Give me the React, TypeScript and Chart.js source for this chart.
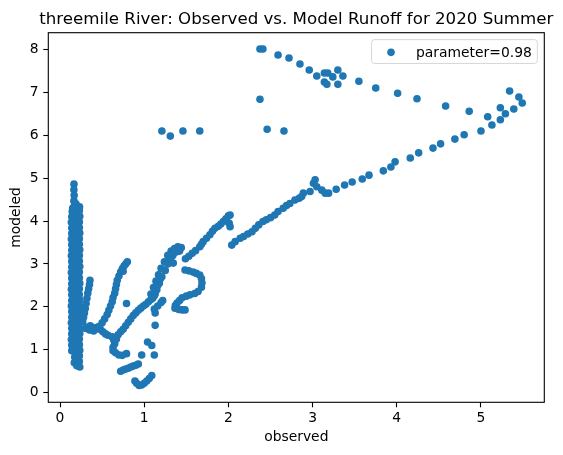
import { useEffect, useRef } from "react";
import { Chart, registerables } from "chart.js";

Chart.register(...registerables);

const TITLE = "threemile River: Observed vs. Model Runoff for 2020 Summer";
const X_LABEL = "observed";
const Y_LABEL = "modeled";
const SERIES_LABEL = "parameter=0.98";
const X_TICKS = [0, 1, 2, 3, 4, 5];
const Y_TICKS = [0, 1, 2, 3, 4, 5, 6, 7, 8];
const X_RANGE = [-0.139, 5.752];
const Y_RANGE = [-0.224, 8.39];

// [observed, modeled] pairs
const lowFlowBand: [number, number][] = [
  [0.14, 0.98], [0.14, 1.11], [0.135, 1.24], [0.14, 1.37], [0.14, 1.5], [0.135, 1.63], [0.14, 1.76], [0.14, 1.89],
  [0.135, 2.02], [0.14, 2.15], [0.14, 2.28], [0.135, 2.41], [0.14, 2.54], [0.14, 2.67], [0.135, 2.8], [0.14, 2.93],
  [0.14, 3.06], [0.135, 3.19], [0.14, 3.32], [0.14, 3.45], [0.135, 3.58], [0.14, 3.71], [0.14, 3.84], [0.135, 3.97],
  [0.14, 4.1], [0.145, 4.22], [0.15, 4.3],
  [0.17, 0.7], [0.175, 0.83], [0.17, 0.96], [0.17, 1.09], [0.175, 1.22], [0.17, 1.35], [0.17, 1.48], [0.175, 1.61],
  [0.17, 1.74], [0.17, 1.87], [0.175, 2.0], [0.17, 2.13], [0.17, 2.26], [0.175, 2.39], [0.17, 2.52], [0.17, 2.65],
  [0.175, 2.78], [0.17, 2.91], [0.17, 3.04], [0.175, 3.17], [0.17, 3.3], [0.17, 3.43], [0.175, 3.56], [0.17, 3.69],
  [0.17, 3.82], [0.175, 3.95], [0.17, 4.08], [0.17, 4.21], [0.168, 4.34], [0.165, 4.47], [0.168, 4.6], [0.165, 4.73],
  [0.166, 4.86],
  [0.2, 0.63], [0.205, 0.76], [0.2, 0.89], [0.2, 1.02], [0.205, 1.15], [0.2, 1.28], [0.2, 1.41], [0.205, 1.54],
  [0.2, 1.67], [0.2, 1.8], [0.205, 1.93], [0.2, 2.06], [0.2, 2.19], [0.205, 2.32], [0.2, 2.45], [0.2, 2.58],
  [0.205, 2.71], [0.2, 2.84], [0.2, 2.97], [0.205, 3.1], [0.2, 3.23], [0.2, 3.36], [0.205, 3.49], [0.2, 3.62],
  [0.2, 3.75], [0.205, 3.88], [0.2, 4.01], [0.2, 4.14], [0.195, 4.27], [0.19, 4.4],
  [0.235, 0.6], [0.23, 0.73], [0.23, 0.86], [0.235, 0.99], [0.23, 1.12], [0.23, 1.25], [0.235, 1.38], [0.23, 1.51],
  [0.23, 1.64], [0.235, 1.77], [0.23, 1.9], [0.23, 2.03], [0.235, 2.16], [0.23, 2.29], [0.23, 2.42], [0.235, 2.55],
  [0.23, 2.68], [0.23, 2.81], [0.235, 2.94], [0.23, 3.07], [0.23, 3.2], [0.235, 3.33], [0.23, 3.46], [0.23, 3.59],
  [0.235, 3.72], [0.23, 3.85], [0.23, 3.98], [0.235, 4.11], [0.23, 4.24], [0.232, 4.33],
];

const bandBranch: [number, number][] = [
  [0.27, 1.66], [0.28, 1.76], [0.29, 1.86], [0.3, 1.96], [0.31, 2.08], [0.32, 2.2], [0.33, 2.32], [0.34, 2.42],
  [0.35, 2.52], [0.356, 2.62],
];

const lowFlat: [number, number][] = [
  [0.3, 1.5], [0.33, 1.53], [0.36, 1.56], [0.39, 1.52], [0.42, 1.48], [0.45, 1.53], [0.48, 1.47], [0.51, 1.42],
  [0.54, 1.37], [0.57, 1.34], [0.4, 1.44], [0.35, 1.46],
];

const riseA: [number, number][] = [
  [0.47, 1.55], [0.5, 1.63], [0.53, 1.72], [0.56, 1.82], [0.58, 1.92], [0.6, 2.02], [0.62, 2.12], [0.63, 2.22],
  [0.65, 2.32], [0.66, 2.42], [0.67, 2.52], [0.68, 2.62], [0.7, 2.72], [0.72, 2.81], [0.74, 2.89], [0.76, 2.95],
  [0.78, 3.0], [0.8, 3.05], [0.75, 2.83], [0.79, 2.08],
];

const riseB: [number, number][] = [
  [0.62, 1.3], [0.64, 1.22], [0.65, 1.14], [0.63, 1.06], [0.63, 0.98], [0.66, 0.93], [0.7, 0.88], [0.74, 0.87],
  [0.79, 0.91], [0.67, 1.25], [0.69, 1.35], [0.72, 1.42], [0.75, 1.48], [0.78, 1.56], [0.81, 1.64], [0.84, 1.72],
  [0.87, 1.8], [0.9, 1.86], [0.93, 1.92], [0.96, 1.97], [0.99, 2.02], [1.02, 2.06], [1.05, 2.12], [1.08, 2.17],
  [1.1, 2.22], [1.12, 2.26],
];

const lowStreaks: [number, number][] = [
  [0.72, 0.5], [0.75, 0.53], [0.78, 0.55], [0.81, 0.57], [0.84, 0.6], [0.87, 0.62], [0.9, 0.64], [0.93, 0.67],
  [0.89, 0.27], [0.91, 0.22], [0.94, 0.17], [0.97, 0.18], [1.0, 0.22], [1.03, 0.27], [1.06, 0.33], [1.09, 0.4],
  [0.97, 0.88], [1.12, 0.88], [1.04, 1.18], [1.09, 1.1], [1.13, 1.57], [1.13, 1.86], [1.12, 1.95], [1.16, 2.02],
  [1.2, 2.1], [1.22, 2.15],
];

const midColumn: [number, number][] = [
  [1.1, 2.2], [1.08, 2.3], [1.11, 2.45], [1.14, 2.6], [1.17, 2.75], [1.2, 2.9], [1.24, 3.05], [1.28, 3.2],
  [1.32, 3.3], [1.36, 3.36], [1.4, 3.4], [1.44, 3.38], [1.15, 2.4], [1.18, 2.55], [1.21, 2.7], [1.25, 2.85],
  [1.28, 3.0], [1.31, 3.1], [1.34, 3.2], [1.38, 3.28], [1.42, 3.3], [1.345, 3.02], [1.13, 2.3], [1.16, 2.5],
  [1.19, 2.65],
];

const hookArc: [number, number][] = [
  [1.485, 2.86], [1.53, 2.84], [1.58, 2.81], [1.62, 2.78], [1.66, 2.74], [1.68, 2.66], [1.686, 2.56], [1.68, 2.46],
  [1.64, 2.36], [1.6, 2.31], [1.544, 2.28], [1.5, 2.25], [1.45, 2.21], [1.42, 2.15], [1.39, 2.09], [1.37, 2.03],
  [1.366, 1.97], [1.41, 1.94], [1.45, 1.93], [1.485, 1.93],
];

const midLine: [number, number][] = [
  [1.49, 3.12], [1.53, 3.18], [1.57, 3.25], [1.61, 3.31], [1.66, 3.4], [1.68, 3.46], [1.7, 3.52], [1.74, 3.6],
  [1.78, 3.68], [1.81, 3.76], [1.84, 3.83], [1.88, 3.88], [1.91, 3.93], [1.94, 3.99], [1.97, 4.05], [2.0, 4.12],
  [2.02, 4.14], [2.02, 3.87], [2.01, 3.95],
];

const upperLine: [number, number][] = [
  [2.04, 3.44], [2.08, 3.52], [2.14, 3.6], [2.18, 3.64], [2.23, 3.7], [2.28, 3.75], [2.32, 3.83], [2.36, 3.91],
  [2.41, 3.99], [2.45, 4.03], [2.5, 4.08], [2.55, 4.14], [2.59, 4.22], [2.65, 4.3], [2.69, 4.36], [2.73, 4.41],
  [2.79, 4.49], [2.84, 4.53], [2.87, 4.57], [2.89, 4.65], [2.97, 4.69], [3.01, 4.88], [3.03, 4.96], [3.05, 4.8],
  [3.11, 4.72], [3.15, 4.65], [3.19, 4.65], [3.28, 4.74], [3.38, 4.84], [3.47, 4.91], [3.59, 4.98], [3.67, 5.07],
  [3.84, 5.17], [3.93, 5.26], [3.98, 5.38], [4.16, 5.47], [4.26, 5.59], [4.43, 5.7], [4.52, 5.8], [4.69, 5.91],
  [4.8, 6.01], [5.0, 6.1], [5.08, 6.43], [5.13, 6.24], [5.23, 6.36], [5.23, 6.64], [5.29, 6.5], [5.39, 6.61],
  [5.49, 6.75], [5.45, 6.89], [5.34, 7.03],
];

const upperArc: [number, number][] = [
  [2.375, 8.01], [2.41, 8.01], [2.59, 7.87], [2.72, 7.8], [2.85, 7.66], [2.96, 7.52], [3.05, 7.38], [3.14, 7.45],
  [3.18, 7.45], [3.3, 7.52], [3.36, 7.38], [3.24, 7.36], [3.14, 7.24], [3.17, 7.19], [3.3, 7.19], [3.55, 7.26],
  [3.75, 7.1], [4.01, 6.98], [4.24, 6.85], [4.58, 6.68], [4.86, 6.56],
];

const scattered: [number, number][] = [
  [2.375, 6.84], [2.46, 6.14], [2.66, 6.1], [1.21, 6.1], [1.31, 5.98], [1.46, 6.1], [1.66, 6.1],
];

const allPairs = [
  ...lowFlowBand, ...bandBranch, ...lowFlat, ...riseA, ...riseB, ...lowStreaks,
  ...midColumn, ...hookArc, ...midLine, ...upperLine, ...upperArc, ...scattered,
];

const BLUE = "#1f77b4";
const FONT = "DejaVu Sans";
const FS = 13.89;
const PT_R = 3.1;
const PT_BW = 1.4;

const decorations = {
  id: "decorations",
  afterDatasetsDraw(chart: any) {
    const { ctx, chartArea: a } = chart;
    ctx.save();
    // frame
    ctx.strokeStyle = "#000";
    ctx.lineWidth = 1.1;
    ctx.strokeRect(a.left, a.top, a.right - a.left, a.bottom - a.top);
    // title
    ctx.fillStyle = "#000";
    ctx.font = `16.67px "${FONT}"`;
    ctx.textAlign = "center";
    ctx.textBaseline = "alphabetic";
    ctx.fillText(TITLE, (a.left + a.right) / 2, a.top - 8.33);
    // legend
    ctx.font = `${FS}px "${FONT}"`;
    const tw = ctx.measureText(SERIES_LABEL).width;
    const pad = 0.4 * FS, hl = 2 * FS, htp = 0.8 * FS, axpad = 0.5 * FS;
    const right = a.right - axpad;
    const top = a.top + axpad;
    const w = pad + hl + htp + tw + pad;
    const h = 23.8;
    const left = right - w;
    const r = 2.8;
    ctx.beginPath();
    ctx.moveTo(left + r, top);
    ctx.lineTo(right - r, top);
    ctx.arcTo(right, top, right, top + r, r);
    ctx.lineTo(right, top + h - r);
    ctx.arcTo(right, top + h, right - r, top + h, r);
    ctx.lineTo(left + r, top + h);
    ctx.arcTo(left, top + h, left, top + h - r, r);
    ctx.lineTo(left, top + r);
    ctx.arcTo(left, top, left + r, top, r);
    ctx.closePath();
    ctx.fillStyle = "rgba(255,255,255,0.8)";
    ctx.fill();
    ctx.strokeStyle = "rgba(204,204,204,0.8)";
    ctx.lineWidth = 1;
    ctx.stroke();
    ctx.beginPath();
    ctx.arc(left + pad + hl / 2, top + 12.7, PT_R + PT_BW / 2, 0, Math.PI * 2);
    ctx.fillStyle = BLUE;
    ctx.fill();
    ctx.fillStyle = "#000";
    ctx.textAlign = "left";
    ctx.textBaseline = "alphabetic";
    ctx.fillText(SERIES_LABEL, left + pad + hl + htp, top + 16.9);
    ctx.restore();
  },
};

function zeroPad(s: any) {
  s.paddingLeft = 0;
  s.paddingRight = 0;
  s.paddingTop = 0;
  s.paddingBottom = 0;
}

export default function App() {
  const ref = useRef<HTMLCanvasElement | null>(null);
  useEffect(() => {
    if (!ref.current) return;
    const tickFont = { family: FONT, size: FS };
    const chart = new Chart(ref.current, {
      type: "scatter",
      data: {
        datasets: [
          {
            label: SERIES_LABEL,
            data: allPairs.map(([x, y]) => ({ x, y })),
            backgroundColor: BLUE,
            borderColor: BLUE,
            pointRadius: PT_R,
            borderWidth: PT_BW,
            pointHoverRadius: PT_R,
          },
        ],
      },
      options: {
        animation: false,
        responsive: false,
        events: [],
        layout: { padding: { left: 0, top: 32.7, right: 563 - 544.3, bottom: 0 } },
        plugins: { legend: { display: false }, tooltip: { enabled: false }, title: { display: false } },
        scales: {
          x: {
            type: "linear",
            min: X_RANGE[0],
            max: X_RANGE[1],
            afterBuildTicks: (s: any) => {
              s.ticks = X_TICKS.map((v) => ({ value: v }));
            },
            afterFit: (s: any) => {
              s.height = 455 - 402.3;
              zeroPad(s);
            },
            grid: { drawOnChartArea: false, drawTicks: true, tickLength: 5, tickWidth: 1.1, tickColor: "#000" },
            border: { display: false },
            ticks: {
              color: "#000",
              font: tickFont,
              padding: 2.4,
              maxRotation: 0,
              autoSkip: false,
              callback: (v: any) => String(v),
            },
            title: {
              display: true,
              text: X_LABEL,
              color: "#000",
              font: tickFont,
              padding: { top: 0, bottom: 9.46 },
            },
          },
          y: {
            type: "linear",
            min: Y_RANGE[0],
            max: Y_RANGE[1],
            afterBuildTicks: (s: any) => {
              s.ticks = Y_TICKS.map((v) => ({ value: v }));
            },
            afterFit: (s: any) => {
              s.width = 48.3;
              zeroPad(s);
            },
            grid: { drawOnChartArea: false, drawTicks: true, tickLength: 5, tickWidth: 1.1, tickColor: "#000" },
            border: { display: false },
            ticks: {
              color: "#000",
              font: tickFont,
              padding: 4.7,
              autoSkip: false,
              callback: (v: any) => String(v),
            },
            title: {
              display: true,
              text: Y_LABEL,
              color: "#000",
              font: tickFont,
              padding: { top: 8.1, bottom: 0 },
            },
          },
        },
      },
      plugins: [decorations],
    });
    return () => chart.destroy();
  }, []);
  return (
    <div style={{ position: "absolute", left: 0, top: 0, width: 563, height: 455, background: "#fff" }}>
      <canvas ref={ref} width={563} height={455} style={{ display: "block" }} />
    </div>
  );
}
